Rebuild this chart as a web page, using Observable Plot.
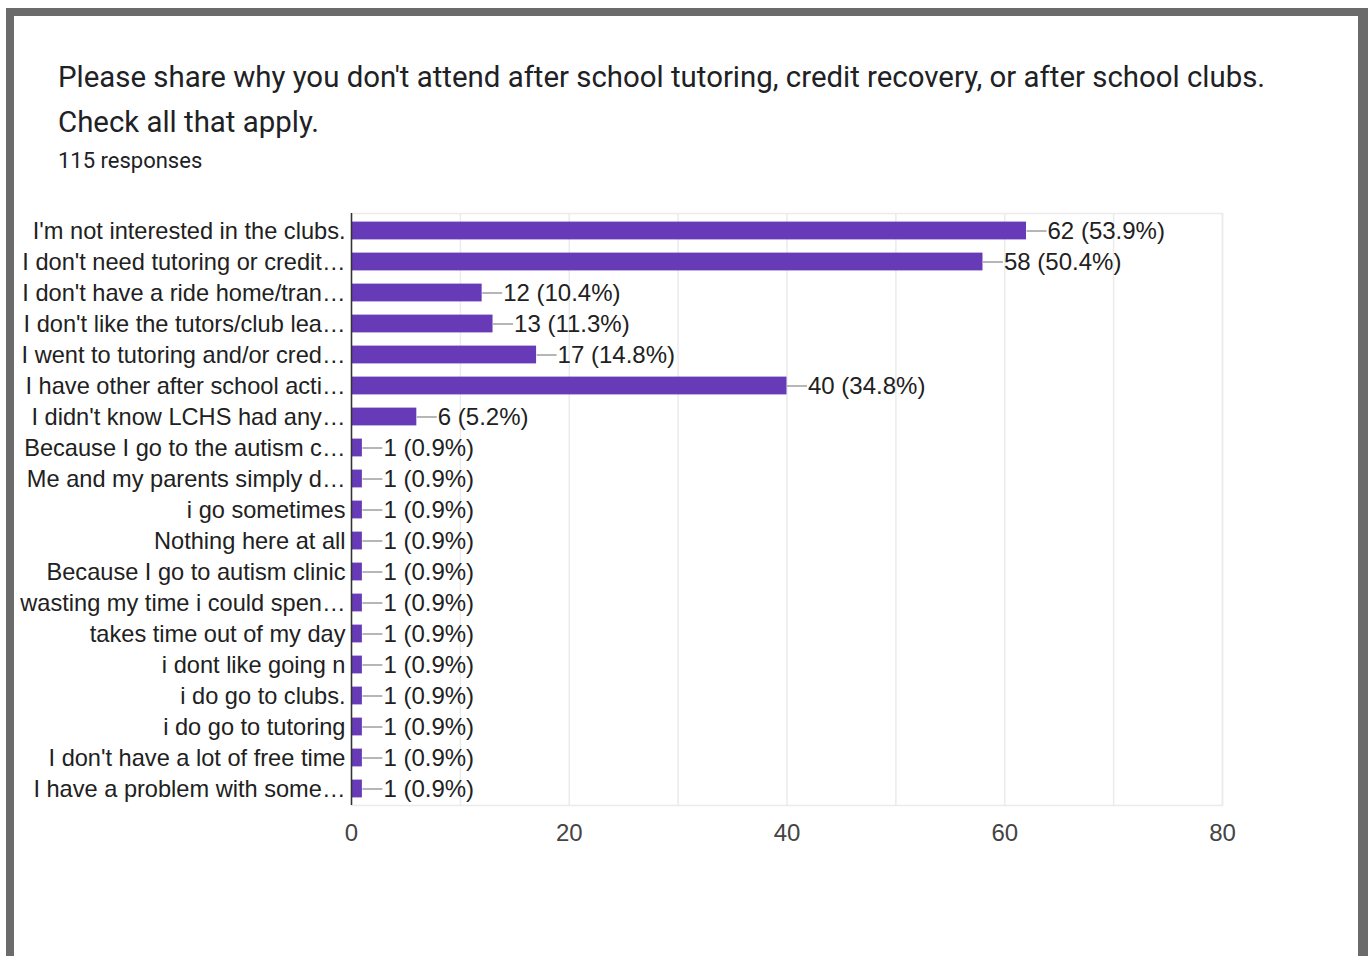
<!DOCTYPE html>
<html>
<head>
<meta charset="utf-8">
<script src="https://cdn.jsdelivr.net/npm/d3@7"></script>
<script src="https://cdn.jsdelivr.net/npm/@observablehq/plot@0.6"></script>
<style>
  html, body { margin: 0; padding: 0; background: #fff; overflow: hidden; width: 1368px; height: 956px; }
  #frame { position: absolute; left: 6px; top: 8px; width: 1344px; height: 945px; border-style: solid; border-color: #6b6b6b; border-width: 8px 10px 8px 8px; background: #fff; }
  .title { position: absolute; left: 58px; font-family: Roboto, "Noto Sans", sans-serif; color: #202124; white-space: nowrap; line-height: normal; }
  #t1 { top: 60px; font-size: 29.4px; }
  #t2 { top: 105px; font-size: 29.4px; }
  #sub { top: 148px; font-size: 22px; }
  #chart { position: absolute; left: 0; top: 195px; }
</style>
</head>
<body>
<div id="frame"></div>
<div class="title" id="t1">Please share why you don't attend after school tutoring, credit recovery, or after school clubs.</div>
<div class="title" id="t2">Check all that apply.</div>
<div class="title" id="sub">115 responses</div>
<div id="chart"></div>
<script>
const labels = [
  "I'm not interested in the clubs.",
  "I don't need tutoring or credit…",
  "I don't have a ride home/tran…",
  "I don't like the tutors/club lea…",
  "I went to tutoring and/or cred…",
  "I have other after school acti…",
  "I didn't know LCHS had any…",
  "Because I go to the autism c…",
  "Me and my parents simply d…",
  "i go sometimes",
  "Nothing here at all",
  "Because I go to autism clinic",
  "wasting my time i could spen…",
  "takes time out of my day",
  "i dont like going n",
  "i do go to clubs.",
  "i do go to tutoring",
  "I don't have a lot of free time",
  "I have a problem with some…"
];
const counts = [62, 58, 12, 13, 17, 40, 6, 1, 1, 1, 1, 1, 1, 1, 1, 1, 1, 1, 1];
const percents = ["53.9", "50.4", "10.4", "11.3", "14.8", "34.8", "5.2", "0.9", "0.9", "0.9", "0.9", "0.9", "0.9", "0.9", "0.9", "0.9", "0.9", "0.9", "0.9"];
const xTicks = [0, 20, 40, 60, 80];
const gridTicks = [0, 10, 20, 30, 40, 50, 60, 70, 80];

const data = labels.map((label, i) => ({label, value: counts[i], pct: percents[i]}));

const width = 1368, height = 670;
const mL = 351, mR = 146, mT = 18, mB = 60;
const xMax = 80;
const connectorUnits = 20 * xMax / (width - mL - mR);

const plot = Plot.plot({
  width, height,
  marginLeft: mL, marginRight: mR, marginTop: mT, marginBottom: mB,
  style: {background: "transparent", fontFamily: "'Liberation Sans', Arial, sans-serif", overflow: "visible"},
  x: {domain: [0, xMax], label: null},
  y: {domain: labels, padding: 0, label: null},
  marks: [
    Plot.ruleX(gridTicks, {stroke: "#ebebeb", strokeWidth: 1.5}),
    Plot.frame({stroke: "#ebebeb", strokeWidth: 1.5}),
    Plot.barX(data, {x: "value", y: "label", fill: "#673ab7", insetTop: 6.6, insetBottom: 6.6}),
    Plot.link(data, {x1: "value", x2: d => d.value + connectorUnits, y1: "label", y2: "label", stroke: "#9e9e9e", strokeWidth: 1.5}),
    Plot.text(data, {x: "value", y: "label", text: d => `${d.value} (${d.pct}%)`, dx: 21, textAnchor: "start", fontSize: 24, fill: "#212121"}),
    Plot.ruleX([0], {stroke: "#333", strokeWidth: 1.5}),
    Plot.axisY({tickSize: 0, tickPadding: 6, fontSize: 23.6, color: "#212121", label: null}),
    Plot.axisX(xTicks, {tickSize: 0, tickPadding: 18, fontSize: 24, color: "#444", label: null})
  ]
});
document.getElementById("chart").appendChild(plot);
</script>
</body>
</html>
